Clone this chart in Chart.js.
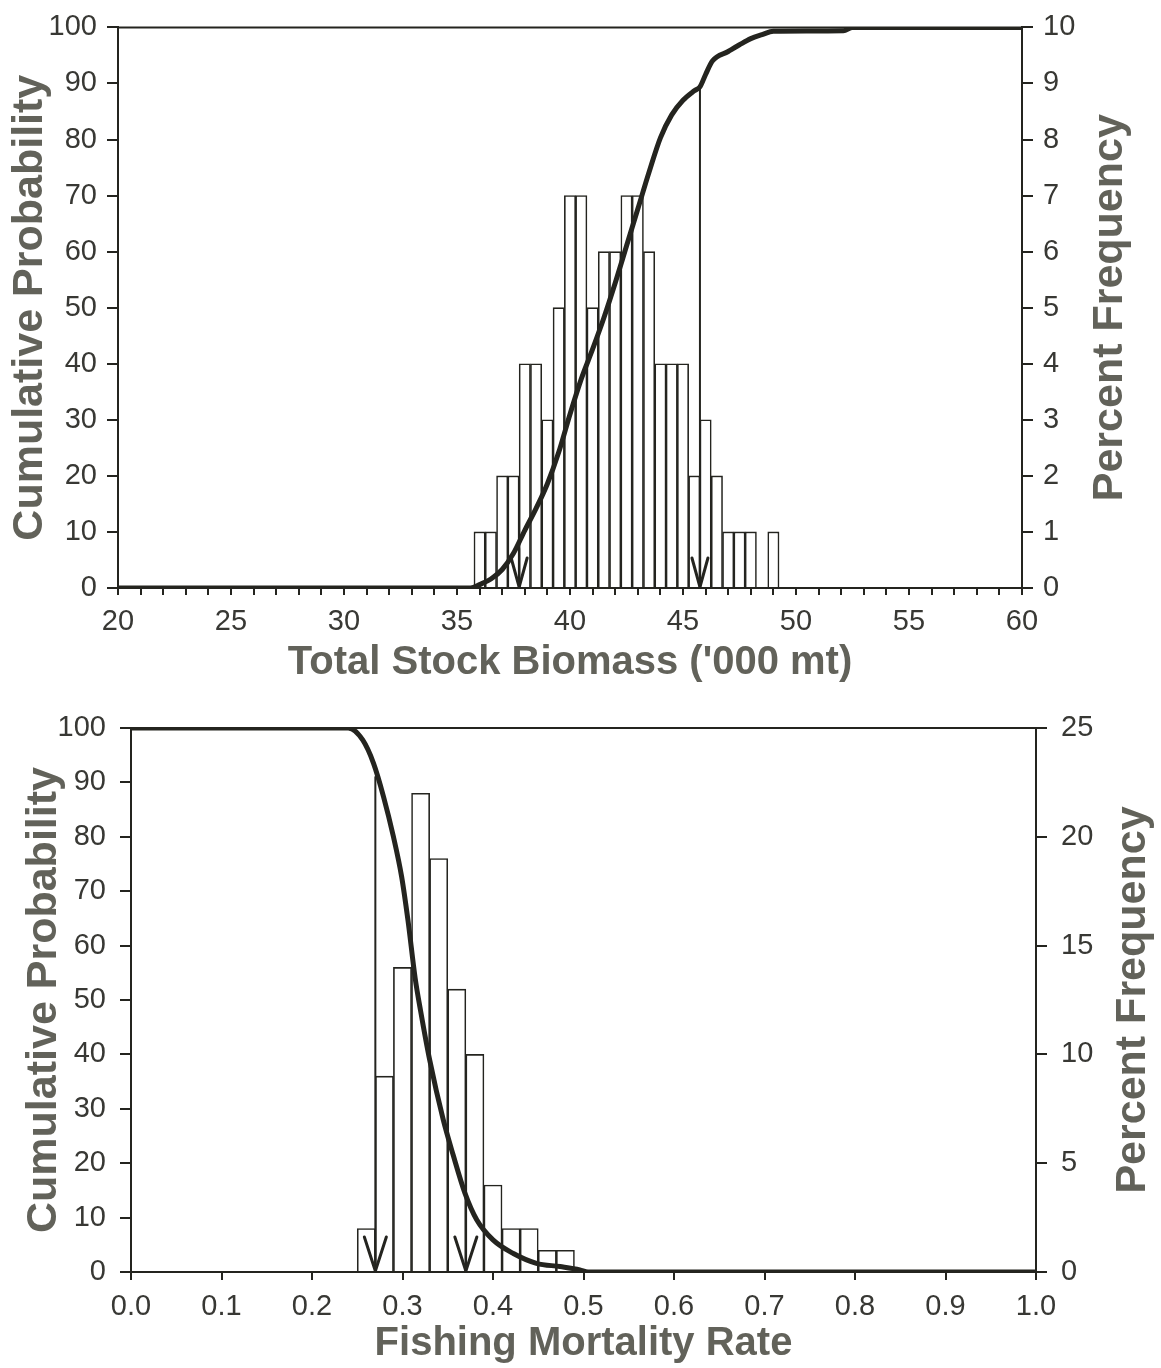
<!DOCTYPE html>
<html>
<head>
<meta charset="utf-8">
<script src="https://cdn.jsdelivr.net/npm/chart.js@4.4.1/dist/chart.umd.min.js"></script>
<style>
  html, body { margin: 0; padding: 0; background: #ffffff; }
  #wrap { position: relative; width: 1161px; height: 1368px; background: #ffffff; }
  #c1 { position: absolute; left: 0; top: 0; }
  #c2 { position: absolute; left: 0; top: 690px; }
</style>
</head>
<body>
<div id="wrap">
  <canvas id="c1" width="1161" height="690"></canvas>
  <canvas id="c2" width="1161" height="678"></canvas>
</div>
<script>
// ---------------- DATA ----------------
// Top panel: Total Stock Biomass ('000 mt)
const bioBins = [36, 36.5, 37, 37.5, 38, 38.5, 39, 39.5, 40, 40.5, 41, 41.5, 42, 42.5, 43, 43.5, 44, 44.5, 45, 45.5, 46, 46.5, 47, 47.5, 48, 48.5, 49];
const bioFreq = [1, 1, 2, 2, 4, 4, 3, 5, 7, 7, 5, 6, 6, 7, 7, 6, 4, 4, 4, 2, 3, 2, 1, 1, 1, 0, 1];
const bioCumX = [20, 35.6, 36.0, 36.5, 37.0, 37.5, 38.0, 38.5, 39.0, 39.5, 40.0, 40.5, 41.0, 41.5, 42.0, 42.5, 43.0, 43.5, 44.0, 44.5, 45.0, 45.5, 45.75, 46.0, 46.3, 47.0, 47.5, 48.0, 48.5, 49.0, 52.1, 52.5, 60];
const bioCumY = [0, 0, 0.6, 1.6, 3.3, 6.2, 10.3, 14.2, 18.6, 24.2, 31.0, 37.3, 42.6, 48.2, 54.4, 61.0, 67.6, 74.2, 80.3, 84.4, 87.0, 88.7, 89.4, 91.6, 94.0, 95.7, 96.9, 98.0, 98.7, 99.3, 99.4, 100, 100];
const bioArrowX = [37.75, 45.75];
const bioArrowTop = [7, 89.4];
const bioXTicks = ['20', '25', '30', '35', '40', '45', '50', '55', '60'];

// Bottom panel: Fishing Mortality Rate
const fmBins = [0.26, 0.28, 0.30, 0.32, 0.34, 0.36, 0.38, 0.40, 0.42, 0.44, 0.46, 0.48];
const fmFreq = [2, 9, 14, 22, 19, 13, 10, 4, 2, 2, 1, 1];
const fmCumX = [0, 0.24, 0.256, 0.268, 0.279, 0.290, 0.299, 0.306, 0.314, 0.320, 0.330, 0.345, 0.356, 0.369, 0.382, 0.400, 0.4225, 0.448, 0.474, 0.496, 0.505, 1.0];
const fmCumY = [100, 100, 97.8, 93.5, 87.4, 80, 72.7, 64.7, 54, 48, 39, 28, 21.5, 14.5, 9.6, 5.9, 3.4, 1.6, 1.0, 0.4, 0, 0];
const fmArrowX = [0.27, 0.37];
const fmArrowTop = [91, 14];

// ---------------- STYLE ----------------
const INK = '#24241f';
const TICK_COLOR = '#383834';
const TITLE_COLOR = '#62625a';
const FAMILY = "'Liberation Sans', Arial, Helvetica, sans-serif";
const TICK_FONT = { family: FAMILY, size: 29 };
const XTITLE_FONT = { family: FAMILY, size: 40, weight: 'bold', lineHeight: 1.2 };
const YTITLE_FONT = { family: FAMILY, size: 43, weight: 'bold', lineHeight: 1.2 };

const decor = {
  id: 'decor',
  afterDatasetsDraw(chart, args, opts) {
    const { ctx, chartArea, scales } = chart;
    ctx.save();
    ctx.strokeStyle = INK;
    ctx.lineCap = 'round';
    ctx.lineJoin = 'round';
    // top frame line
    ctx.lineWidth = 2;
    ctx.beginPath();
    ctx.moveTo(chartArea.left, chartArea.top);
    ctx.lineTo(chartArea.right, chartArea.top);
    ctx.stroke();
    // arrows
    (opts.arrowX || []).forEach((xv, i) => {
      const x = scales.x.getPixelForValue(xv);
      const yb = scales.y.getPixelForValue(0);
      const yt = scales.y.getPixelForValue(opts.arrowTop[i]);
      ctx.lineWidth = 2;
      ctx.beginPath();
      ctx.moveTo(x, yt);
      ctx.lineTo(x, yb);
      ctx.stroke();
      ctx.lineWidth = 3;
      ctx.beginPath();
      ctx.moveTo(x - opts.headW, yb - opts.headH);
      ctx.lineTo(x, yb - 1);
      ctx.lineTo(x + opts.headW, yb - opts.headH);
      ctx.stroke();
    });
    ctx.restore();
  },
  afterDraw(chart, args, opts) {
    const { ctx, chartArea } = chart;
    const s = chart.scales.y1;
    ctx.save();
    ctx.translate(s.right - opts.rightTitleOffset, (chartArea.top + chartArea.bottom) / 2);
    ctx.rotate(-Math.PI / 2);
    ctx.font = 'bold ' + YTITLE_FONT.size + 'px ' + FAMILY;
    ctx.fillStyle = TITLE_COLOR;
    ctx.textAlign = 'center';
    ctx.textBaseline = 'middle';
    ctx.fillText(opts.rightTitle, 0, 0);
    ctx.restore();
  }
};

function axisGrid(len) {
  return { display: true, drawOnChartArea: false, drawTicks: true, tickLength: len, color: INK, lineWidth: 2, offset: false };
}

function buildChart(canvasId, p) {
  return new Chart(document.getElementById(canvasId), {
    type: 'bar',
    data: {
      datasets: [
        {
          type: 'line',
          data: p.cumX.map((x, i) => ({ x: x, y: p.cumY[i] })),
          xAxisID: 'x',
          yAxisID: 'y',
          borderColor: INK,
          borderWidth: 5,
          pointRadius: 0,
          fill: false,
          cubicInterpolationMode: 'monotone',
          order: 0
        },
        {
          type: 'bar',
          data: p.bins.map((x, i) => ({ x: x, y: p.freq[i] })),
          xAxisID: 'x',
          yAxisID: 'y1',
          backgroundColor: '#ffffff',
          borderColor: INK,
          borderWidth: 1.6,
          barPercentage: 1,
          categoryPercentage: 1,
          order: 1
        }
      ]
    },
    options: {
      responsive: false,
      animation: false,
      events: [],
      layout: { padding: { top: p.padTop, left: 0, right: 0, bottom: 0 } },
      plugins: {
        legend: { display: false },
        tooltip: { enabled: false },
        decor: {
          arrowX: p.arrowX, arrowTop: p.arrowTop, headW: p.headW, headH: p.headH,
          rightTitle: 'Percent Frequency', rightTitleOffset: p.rightTitleOffset
        }
      },
      scales: {
        x: {
          type: 'linear', position: 'bottom', min: p.xMin, max: p.xMax, offset: false,
          grid: axisGrid(p.xTickLen),
          border: { display: true, color: INK, width: 2 },
          ticks: {
            stepSize: p.xStep, autoSkip: false, maxRotation: 0, minRotation: 0,
            font: TICK_FONT, color: TICK_COLOR, padding: p.xTickPad,
            callback: p.xLabel
          },
          title: { display: true, text: p.xTitle, font: XTITLE_FONT, color: TITLE_COLOR, padding: { top: 0, bottom: p.xTitlePadBottom } },
          afterFit(s) { s.height = p.xHeight; }
        },
        y: {
          type: 'linear', position: 'left', min: 0, max: 100,
          grid: axisGrid(11),
          border: { display: true, color: INK, width: 2 },
          ticks: { stepSize: 10, font: TICK_FONT, color: TICK_COLOR, padding: p.yTickPad },
          title: { display: true, text: 'Cumulative Probability', font: YTITLE_FONT, color: TITLE_COLOR, padding: { top: p.yTitlePad, bottom: 0 } },
          afterFit(s) { s.width = p.leftW; }
        },
        y1: {
          type: 'linear', position: 'right', min: 0, max: p.y1Max,
          grid: axisGrid(11),
          border: { display: true, color: INK, width: 2 },
          ticks: { stepSize: p.y1Step, font: TICK_FONT, color: TICK_COLOR, padding: p.y1TickPad },
          title: { display: false },
          afterFit(s) { s.width = p.rightW; }
        }
      }
    },
    plugins: [decor]
  });
}

buildChart('c1', {
  bins: bioBins, freq: bioFreq, cumX: bioCumX, cumY: bioCumY,
  arrowX: bioArrowX, arrowTop: bioArrowTop, headW: 8, headH: 30,
  xMin: 20, xMax: 60, xStep: 1,
  xLabel: (v) => { const s = String(v); return bioXTicks.indexOf(s) >= 0 ? s : ''; },
  xTitle: "Total Stock Biomass ('000 mt)",
  xTickLen: 7, xTickPad: 10, xHeight: 102, xTitlePadBottom: 3,
  padTop: 25, leftW: 118, rightW: 139,
  yTickPad: 10, y1TickPad: 10, yTitlePad: 4,
  y1Max: 10, y1Step: 1, rightTitleOffset: 51
});

buildChart('c2', {
  bins: fmBins, freq: fmFreq, cumX: fmCumX, cumY: fmCumY,
  arrowX: fmArrowX, arrowTop: fmArrowTop, headW: 11, headH: 35,
  xMin: 0, xMax: 1, xStep: 0.1,
  xLabel: (v) => Number(v).toFixed(1),
  xTitle: 'Fishing Mortality Rate',
  xTickLen: 8, xTickPad: 10, xHeight: 96, xTitlePadBottom: 0,
  padTop: 38, leftW: 131, rightW: 125,
  yTickPad: 14, y1TickPad: 14, yTitlePad: 18,
  y1Max: 25, y1Step: 5, rightTitleOffset: 28
});
</script>
</body>
</html>
